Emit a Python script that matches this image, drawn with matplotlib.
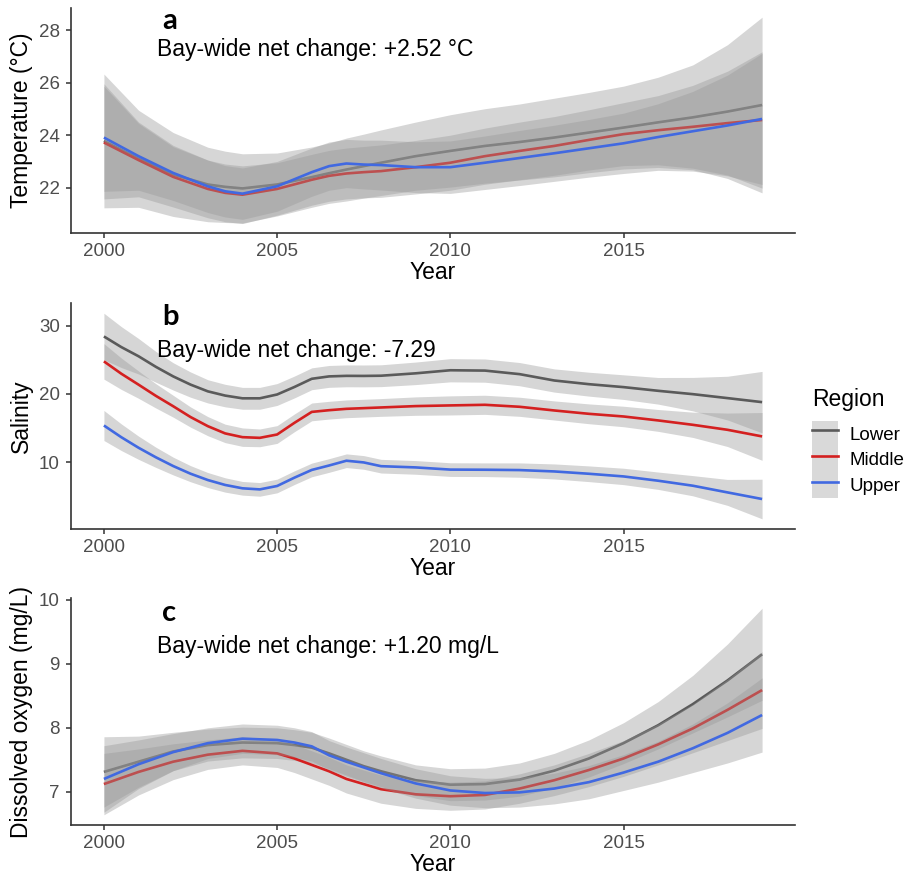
import matplotlib
matplotlib.use("Agg")
import matplotlib.pyplot as plt
from matplotlib.lines import Line2D
from matplotlib.patches import Patch

plt.rcParams["font.family"] = ["Liberation Sans", "DejaVu Sans"]

W, H = 917, 875

regions = ["Lower", "Middle", "Upper"]
line_colors = ["#5a5a5a", "#d42020", "#4169e1"]

# ---- panel a: temperature ----
years_a = [2000, 2001, 2002, 2003, 2003.5, 2004, 2005, 2006, 2006.5, 2007, 2007.5, 2008,
           2009, 2010, 2011, 2012, 2013, 2014, 2015, 2016, 2017, 2018, 2019]
temp_lower = [23.78, 23.10, 22.50, 22.12, 22.03, 21.97, 22.12, 22.40, 22.55, 22.69, 22.82, 22.95,
              23.20, 23.40, 23.59, 23.74, 23.91, 24.10, 24.29, 24.49, 24.68, 24.90, 25.15]
temp_middle = [23.72, 23.05, 22.41, 21.95, 21.80, 21.73, 21.95, 22.30, 22.45, 22.54, 22.59, 22.63,
               22.78, 22.95, 23.20, 23.40, 23.59, 23.82, 24.04, 24.19, 24.32, 24.46, 24.58]
temp_upper = [23.91, 23.20, 22.56, 22.05, 21.86, 21.77, 22.05, 22.59, 22.82, 22.92, 22.88, 22.86,
              22.78, 22.78, 22.95, 23.13, 23.31, 23.50, 23.69, 23.93, 24.15, 24.37, 24.62]
temp_lower_se = [2.55, 1.85, 1.60, 1.42, 1.36, 1.32, 1.20, 1.15, 1.15, 1.20, 1.22, 1.25,
                 1.30, 1.38, 1.42, 1.45, 1.50, 1.53, 1.58, 1.72, 2.00, 2.55, 3.35]
temp_middle_se = [2.15, 1.40, 1.15, 1.10, 1.10, 1.10, 1.00, 0.97, 0.97, 0.97, 0.98, 1.00,
                  1.02, 1.05, 1.07, 1.10, 1.12, 1.15, 1.20, 1.32, 1.58, 1.98, 2.60]
temp_upper_se = [2.05, 1.30, 1.05, 1.00, 0.98, 0.98, 0.95, 0.92, 0.92, 0.92, 0.93, 0.95,
                 0.97, 1.00, 1.02, 1.05, 1.07, 1.10, 1.15, 1.27, 1.52, 1.92, 2.50]

# ---- panel b: salinity ----
years_b = [2000, 2000.5, 2001, 2001.5, 2002, 2002.5, 2003, 2003.5, 2004, 2004.5, 2005, 2005.5,
           2006, 2006.5, 2007, 2007.5, 2008, 2009, 2010, 2011, 2012, 2013, 2014, 2015, 2016,
           2017, 2018, 2019]
sal_lower = [28.40, 26.85, 25.50, 23.95, 22.55, 21.35, 20.36, 19.74, 19.34, 19.34, 19.90, 21.00,
             22.20, 22.55, 22.63, 22.62, 22.65, 23.00, 23.45, 23.40, 22.88, 21.95, 21.41, 20.98,
             20.44, 19.95, 19.37, 18.78]
sal_middle = [24.75, 22.95, 21.34, 19.70, 18.18, 16.60, 15.26, 14.20, 13.65, 13.55, 14.04, 15.75,
              17.35, 17.60, 17.80, 17.90, 18.00, 18.20, 18.30, 18.39, 18.10, 17.56, 17.07, 16.68,
              16.10, 15.46, 14.73, 13.76]
sal_upper = [15.36, 13.65, 12.10, 10.70, 9.42, 8.30, 7.37, 6.65, 6.16, 6.00, 6.50, 7.72,
             8.85, 9.50, 10.20, 9.95, 9.40, 9.22, 8.90, 8.88, 8.83, 8.63, 8.29, 7.90,
             7.27, 6.54, 5.56, 4.59]
sal_lower_se = [3.40, 3.00, 2.60, 2.25, 2.00, 1.85, 1.70, 1.65, 1.60, 1.60, 1.60, 1.60,
                1.60, 1.60, 1.60, 1.60, 1.60, 1.65, 1.70, 1.70, 1.70, 1.70, 1.75, 1.80,
                1.95, 2.45, 3.20, 4.50]
sal_middle_se = [2.60, 2.30, 2.00, 1.78, 1.60, 1.48, 1.40, 1.35, 1.35, 1.30, 1.30, 1.30,
                 1.30, 1.30, 1.30, 1.30, 1.30, 1.35, 1.40, 1.40, 1.40, 1.40, 1.45, 1.50,
                 1.60, 1.85, 2.45, 3.50]
sal_upper_se = [2.20, 1.95, 1.70, 1.48, 1.30, 1.18, 1.10, 1.05, 1.00, 1.00, 1.00, 1.00,
                1.00, 1.00, 1.00, 1.00, 1.00, 1.00, 1.00, 1.00, 1.05, 1.10, 1.15, 1.20,
                1.27, 1.48, 1.90, 2.90]

# ---- panel c: dissolved oxygen ----
years_c = [2000, 2001, 2002, 2003, 2004, 2005, 2005.5, 2006, 2006.5, 2007, 2007.5, 2008,
           2009, 2010, 2011, 2012, 2013, 2014, 2015, 2016, 2017, 2018, 2019]
do_lower = [7.31, 7.47, 7.63, 7.73, 7.77, 7.76, 7.73, 7.69, 7.60, 7.50, 7.40, 7.32,
            7.18, 7.11, 7.12, 7.19, 7.33, 7.52, 7.76, 8.04, 8.37, 8.74, 9.15]
do_middle = [7.12, 7.31, 7.47, 7.58, 7.64, 7.60, 7.52, 7.42, 7.32, 7.20, 7.12, 7.04,
             6.96, 6.93, 6.95, 7.05, 7.18, 7.34, 7.52, 7.74, 7.99, 8.28, 8.59]
do_upper = [7.20, 7.43, 7.62, 7.76, 7.83, 7.81, 7.77, 7.71, 7.57, 7.47, 7.38, 7.29,
            7.13, 7.02, 6.98, 6.99, 7.05, 7.15, 7.30, 7.47, 7.68, 7.92, 8.20]
do_lower_se = [0.55, 0.40, 0.30, 0.25, 0.24, 0.24, 0.24, 0.24, 0.24, 0.24, 0.24, 0.24,
               0.24, 0.25, 0.25, 0.26, 0.27, 0.29, 0.32, 0.37, 0.45, 0.57, 0.72]
do_middle_se = [0.48, 0.36, 0.28, 0.23, 0.22, 0.22, 0.22, 0.22, 0.22, 0.22, 0.22, 0.22,
                0.22, 0.22, 0.22, 0.23, 0.24, 0.26, 0.28, 0.32, 0.38, 0.48, 0.60]
do_upper_se = [0.52, 0.38, 0.29, 0.24, 0.23, 0.23, 0.23, 0.23, 0.23, 0.23, 0.23, 0.23,
               0.23, 0.23, 0.23, 0.23, 0.24, 0.26, 0.28, 0.32, 0.38, 0.47, 0.58]

panels = [
    dict(years=years_a, lines=[temp_lower, temp_middle, temp_upper],
         se=[temp_lower_se, temp_middle_se, temp_upper_se],
         ylabel="Temperature (°C)", yticks=[22, 24, 26, 28], ylim=(20.27, 28.85),
         tag="a", note="Bay-wide net change: +2.52 °C",
         box=(8, 233), tag_y=29, note_y=56),
    dict(years=years_b, lines=[sal_lower, sal_middle, sal_upper],
         se=[sal_lower_se, sal_middle_se, sal_upper_se],
         ylabel="Salinity", yticks=[10, 20, 30], ylim=(0.2, 33.3),
         tag="b", note="Bay-wide net change: -7.29",
         box=(303, 529), tag_y=325, note_y=357),
    dict(years=years_c, lines=[do_lower, do_middle, do_upper],
         se=[do_lower_se, do_middle_se, do_upper_se],
         ylabel="Dissolved oxygen (mg/L)", yticks=[7, 8, 9, 10], ylim=(6.48, 10.03),
         tag="c", note="Bay-wide net change: +1.20 mg/L",
         box=(598, 825), tag_y=621, note_y=653),
]

fig = plt.figure(figsize=(W / 100, H / 100), dpi=100)

for p in panels:
    top, bottom = p["box"]
    ax = fig.add_axes([71 / W, 1 - bottom / H, (795 - 71) / W, (bottom - top) / H])
    z = 1
    # ribbon then line for each group, like geom_smooth
    for vals, se, col in zip(p["lines"], p["se"], line_colors):
        lo = [v - s for v, s in zip(vals, se)]
        hi = [v + s for v, s in zip(vals, se)]
        ax.fill_between(p["years"], lo, hi, color="#999999", alpha=0.4, lw=0, zorder=z)
        ax.plot(p["years"], vals, color=col, lw=1.9, zorder=z + 1, solid_capstyle="butt")
        z += 2

    ax.set_xlim(1999.05, 2019.95)
    ax.set_ylim(*p["ylim"])
    ax.set_xticks([2000, 2005, 2010, 2015])
    ax.set_yticks(p["yticks"])
    for s in ["top", "right"]:
        ax.spines[s].set_visible(False)
    for s in ["left", "bottom"]:
        ax.spines[s].set_color("#333333")
        ax.spines[s].set_linewidth(1.2)
    ax.tick_params(axis="both", length=3.6, width=1.1, color="#333333",
                   labelcolor="#4d4d4d", labelsize=13.5)
    ax.tick_params(axis="x", pad=3.5)
    ax.tick_params(axis="y", pad=4.5)
    ax.set_xlabel("Year", fontsize=16.5, labelpad=0.5)
    ax.set_ylabel(p["ylabel"], fontsize=16.5, labelpad=4)

    fig.text(162 / W, 1 - p["tag_y"] / H, p["tag"], fontsize=21, fontweight="bold",
             family="Lato", va="baseline")
    fig.text(157 / W, 1 - p["note_y"] / H, p["note"], fontsize=16.5, va="baseline")

handles = [(Patch(facecolor="#d9d9d9", edgecolor="none"), Line2D([], [], color=c, lw=1.9))
           for c in line_colors]
leg = fig.legend(handles, regions, title="Region", loc="upper left",
                 bbox_to_anchor=(812 / W, 1 - 388 / H), frameon=False,
                 borderpad=0, borderaxespad=0, fontsize=13.5, title_fontsize=16.5,
                 handlelength=25.6 / 18.75, handleheight=1.74,
                 labelspacing=0, handletextpad=0.62, alignment="left")
leg._legend_box.sep = 7

fig.savefig("out.png", dpi=100)
